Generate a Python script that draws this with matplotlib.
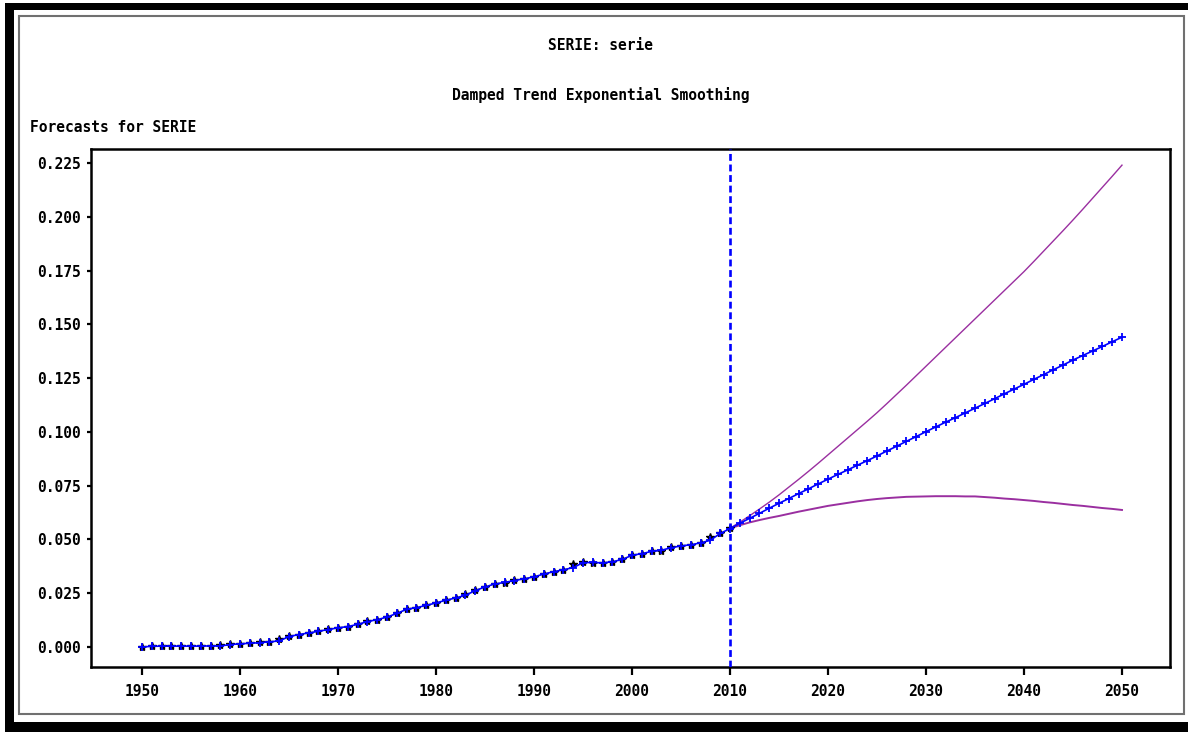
import numpy as np
import matplotlib.pyplot as plt
from matplotlib.patches import Rectangle

# actual series 1950-2010 (black stars)
years_hist = np.arange(1950, 2011)
actual = [0.0000, 0.0004, 0.0004, 0.0004, 0.0004, 0.0004, 0.0005, 0.0004, 0.0009, 0.0014,
          0.0015, 0.0018, 0.0021, 0.0025, 0.0037, 0.0051, 0.0058, 0.0065, 0.0074, 0.0082,
          0.0090, 0.0094, 0.0107, 0.0119, 0.0126, 0.0141, 0.0160, 0.0177, 0.0181, 0.0195,
          0.0206, 0.0217, 0.0228, 0.0248, 0.0264, 0.0280, 0.0294, 0.0299, 0.0311, 0.0316,
          0.0327, 0.0341, 0.0350, 0.0358, 0.0384, 0.0394, 0.0389, 0.0392, 0.0397, 0.0409,
          0.0429, 0.0432, 0.0446, 0.0448, 0.0463, 0.0470, 0.0474, 0.0485, 0.0513, 0.0529,
          0.0552]

# one-step-ahead predictions 1950-2010 and forecasts 2011-2050 (blue +)
years_fc = np.arange(1950, 2051)
forecast = [0.0000, 0.0003, 0.0004, 0.0004, 0.0004, 0.0004, 0.0004, 0.0005, 0.0005, 0.0011,
            0.0015, 0.0017, 0.0020, 0.0024, 0.0028, 0.0048, 0.0058, 0.0065, 0.0073, 0.0081,
            0.0089, 0.0095, 0.0105, 0.0118, 0.0127, 0.0139, 0.0156, 0.0175, 0.0183, 0.0193,
            0.0205, 0.0217, 0.0228, 0.0240, 0.0262, 0.0279, 0.0293, 0.0300, 0.0309, 0.0317,
            0.0326, 0.0339, 0.0350, 0.0359, 0.0369, 0.0392, 0.0393, 0.0391, 0.0396, 0.0407,
            0.0426, 0.0434, 0.0444, 0.0450, 0.0461, 0.0470, 0.0475, 0.0484, 0.0496, 0.0528,
            0.0550,
            0.0575, 0.0598, 0.0621, 0.0645, 0.0668, 0.0690, 0.0713, 0.0735, 0.0758, 0.0780,
            0.0802, 0.0823, 0.0845, 0.0866, 0.0888, 0.0911, 0.0933, 0.0956, 0.0978, 0.1001,
            0.1023, 0.1045, 0.1066, 0.1088, 0.1110, 0.1132, 0.1154, 0.1177, 0.1199, 0.1221,
            0.1244, 0.1266, 0.1289, 0.1311, 0.1334, 0.1355, 0.1376, 0.1397, 0.1419, 0.1440]

# confidence limits 2010-2050
years_ci = np.arange(2010, 2051)
upper = [0.0552, 0.0580, 0.0610, 0.0641, 0.0673, 0.0707, 0.0743, 0.0779, 0.0816, 0.0854,
         0.0893, 0.0932, 0.0971, 0.1010, 0.1049, 0.1089, 0.1131, 0.1174, 0.1217, 0.1261,
         0.1305, 0.1349, 0.1393, 0.1437, 0.1481, 0.1525, 0.1569, 0.1613, 0.1657, 0.1701,
         0.1745, 0.1792, 0.1840, 0.1888, 0.1936, 0.1985, 0.2035, 0.2086, 0.2137, 0.2188,
         0.2240]
lower = [0.0552, 0.0566, 0.0579, 0.0590, 0.0600, 0.0609, 0.0619, 0.0629, 0.0638, 0.0647,
         0.0656, 0.0663, 0.0670, 0.0677, 0.0683, 0.0688, 0.0692, 0.0695, 0.0698, 0.0699,
         0.0700, 0.0701, 0.0701, 0.0701, 0.0700, 0.0700, 0.0697, 0.0694, 0.0690, 0.0687,
         0.0683, 0.0679, 0.0674, 0.0670, 0.0665, 0.0660, 0.0656, 0.0651, 0.0646, 0.0642,
         0.0637]

x_ticks = np.arange(1950, 2051, 10)
y_ticks = np.arange(0, 0.226, 0.025)

W, H = 1188, 732
font = dict(family='DejaVu Sans Mono', weight='bold', size=10.5)

fig = plt.figure(figsize=(W / 100, H / 100), dpi=100)

def px_rect(x0, y0, x1, y1, **kw):
    # rectangle given in image pixels (origin top-left)
    fig.patches.append(Rectangle((x0 / W, 1 - y1 / H), (x1 - x0) / W, (y1 - y0) / H,
                                 transform=fig.transFigure, **kw))

# window frame
px_rect(5, 3, W, 10, color='black', lw=0)
px_rect(5, 3, 14, H, color='black', lw=0)
px_rect(5, 722, W, H, color='black', lw=0)
px_rect(19, 16, 1184, 714, fill=False, edgecolor='#707070', lw=1.5)

ax = fig.add_axes([91 / W, 1 - 667 / H, (1170 - 91) / W, (667 - 149) / H])

ax.plot(years_ci, upper, color='#9a2fa0', lw=1.0, zorder=2)
ax.plot(years_ci, lower, color='#9a2fa0', lw=1.4, zorder=2)
ax.plot(years_hist, actual, ls='none', marker='*', color='black', ms=6, zorder=3)
ax.plot(years_fc, forecast, color='#0000ff', lw=1.2, marker='+', ms=6, mew=1.3, zorder=4)
ax.axvline(2010, color='#0000ff', lw=1.9, ls=(0, (2.6, 1.4)), zorder=5)

ax.set_xlim(1944.8, 2054.9)
ax.set_ylim(-0.0093, 0.2315)
ax.set_xticks(x_ticks)
ax.set_xticklabels([str(v) for v in x_ticks], fontdict=font)
ax.set_yticks(y_ticks)
ax.set_yticklabels(['%.3f' % v for v in y_ticks], fontdict=font)
ax.tick_params(axis='x', length=6, width=1.6, pad=6, direction='out')
ax.tick_params(axis='y', length=3, width=1.6, pad=4, direction='out')
for s in ax.spines.values():
    s.set_linewidth(1.8)

fig.text(600 / W, 1 - 46 / H, 'SERIE: serie', ha='center', va='center', **font)
fig.text(601 / W, 1 - 95 / H, 'Damped Trend Exponential Smoothing', ha='center', va='center', **font)
fig.text(30 / W, 1 - 127 / H, 'Forecasts for SERIE', ha='left', va='center', **font)

fig.savefig('out.png', dpi=100)
